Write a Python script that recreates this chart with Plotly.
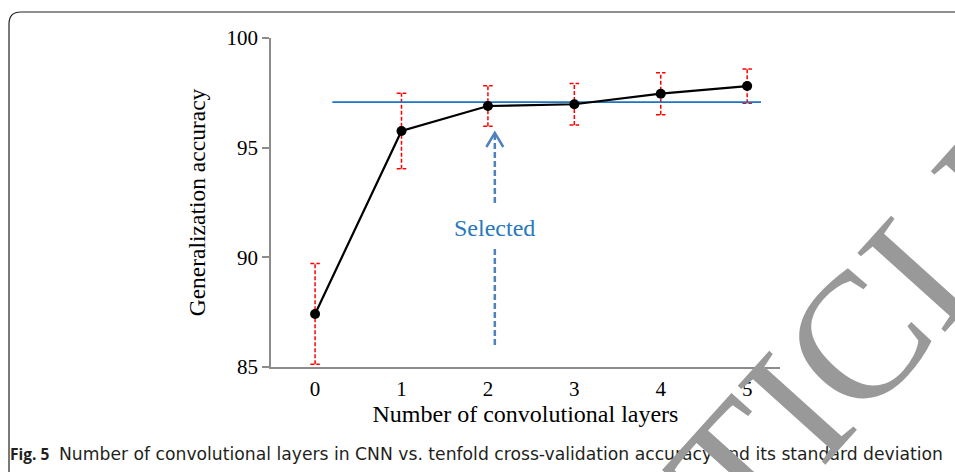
import plotly.graph_objects as go

# ---- data ----
layers = [0, 1, 2, 3, 4, 5]
accuracy = [87.42, 95.76, 96.90, 96.98, 97.46, 97.81]
std_dev = [2.30, 1.72, 0.92, 0.95, 0.96, 0.78]
selected_level = 97.08
selected_line_x = [0.2, 5.16]
selected_layer = 2.08
arrow_y = [86.0, 95.67]
x_ticks = [0, 1, 2, 3, 4, 5]
y_ticks = [85, 90, 95, 100]

W, H = 955, 472
L, R, T, B = 271, 175, 38, 105
pw, ph = W - L - R, H - T - B

def px_to_paper(px, py):
    return (px - L) / pw, (H - B - py) / ph

fig = go.Figure()

# error bars (red dashed) with caps
cap = 0.055
ex, ey = [], []
for x, m, s in zip(layers, accuracy, std_dev):
    ex += [x, x, None, x - cap, x + cap, None, x - cap, x + cap, None]
    ey += [m - s, m + s, None, m + s, m + s, None, m - s, m - s, None]
fig.add_trace(go.Scatter(x=ex, y=ey, mode="lines",
                         line=dict(color="#ff0000", width=1.5, dash="4px,2px"),
                         hoverinfo="skip", showlegend=False))

# selected reference line
fig.add_trace(go.Scatter(x=selected_line_x, y=[selected_level, selected_level], mode="lines",
                         line=dict(color="#1a75c4", width=1.8), showlegend=False))

# main series
fig.add_trace(go.Scatter(x=layers, y=accuracy, mode="lines+markers",
                         line=dict(color="black", width=2.2),
                         marker=dict(color="black", size=10), showlegend=False))

# dashed arrow (two segments around the label) + open head
arrow_color = "#4f81bd"
seg_upper = [92.48, arrow_y[1]]
seg_lower = [arrow_y[0], 90.47]
fig.add_trace(go.Scatter(x=[selected_layer, selected_layer, None, selected_layer, selected_layer],
                         y=[seg_lower[0], seg_lower[1], None, seg_upper[0], seg_upper[1]],
                         mode="lines", line=dict(color=arrow_color, width=2.5, dash="6px,3px"),
                         showlegend=False))
hx, hy = 0.098, 0.64
fig.add_trace(go.Scatter(x=[selected_layer - hx, selected_layer, selected_layer + hx],
                         y=[arrow_y[1] - hy, arrow_y[1], arrow_y[1] - hy],
                         mode="lines", line=dict(color=arrow_color, width=2.5), showlegend=False))

fig.add_annotation(x=selected_layer, y=91.35, text="Selected", showarrow=False,
                   font=dict(family="Liberation Serif", size=24, color="#2878bd"),
                   xanchor="center", yanchor="middle")

# frame (rounded rectangle, partially off-page)
pts = [px_to_paper(9, 490), px_to_paper(9, 24), px_to_paper(9, 12), px_to_paper(21, 12), px_to_paper(970, 12)]
path = "M {:.5f},{:.5f} L {:.5f},{:.5f} Q {:.5f},{:.5f} {:.5f},{:.5f} L {:.5f},{:.5f}".format(
    *[c for p in pts for c in p])
fig.add_shape(type="path", path=path, xref="paper", yref="paper",
              line=dict(color="#222222", width=1.2))

# caption
fx, fy = px_to_paper(8, 454)
fig.add_annotation(x=fx, y=fy, xref="paper", yref="paper", showarrow=False,
                   xanchor="left", yanchor="middle", text="<b>Fig. 5</b>",
                   font=dict(family="Open Sans", size=15.5, color="#231f20"))
nx, ny = px_to_paper(57, 454)
fig.add_annotation(x=nx, y=ny, xref="paper", yref="paper", showarrow=False,
                   xanchor="left", yanchor="middle",
                   text="Number of convolutional layers in CNN vs. tenfold cross-validation accuracy and its standard deviation",
                   font=dict(family="DejaVu Sans", size=17.2, color="#231f20"))

# watermark
wx, wy = px_to_paper(793, 411)
fig.add_annotation(x=wx, y=wy, xref="paper", yref="paper", showarrow=False,
                   xanchor="center", yanchor="middle", textangle=-48,
                   text="ARTICLE",
                   font=dict(family="Liberation Serif", size=180, color="#999999"))

fig.update_layout(
    width=W, height=H,
    margin=dict(l=L, r=R, t=T, b=B, pad=0),
    paper_bgcolor="white", plot_bgcolor="white",
    font=dict(family="Liberation Serif", color="black"),
    xaxis=dict(range=[-0.51, 5.38], tickvals=x_ticks, ticktext=[str(v) for v in x_ticks],
               showgrid=False, zeroline=False, showline=True, linecolor="#8c8c8c", linewidth=1.5,
               ticks="", tickfont=dict(size=21), ticklabelstandoff=2,
               title=dict(text="Number of convolutional layers", font=dict(size=24), standoff=4)),
    yaxis=dict(range=[85, 100], tickvals=y_ticks, showgrid=False, zeroline=False,
               showline=True, linecolor="#8c8c8c", linewidth=1.5,
               ticks="outside", ticklen=7, tickcolor="#8c8c8c", tickwidth=1.5,
               tickfont=dict(size=21),
               title=dict(text="Generalization accuracy", font=dict(size=23.5), standoff=14)),
)

fig.write_html("out.html")
